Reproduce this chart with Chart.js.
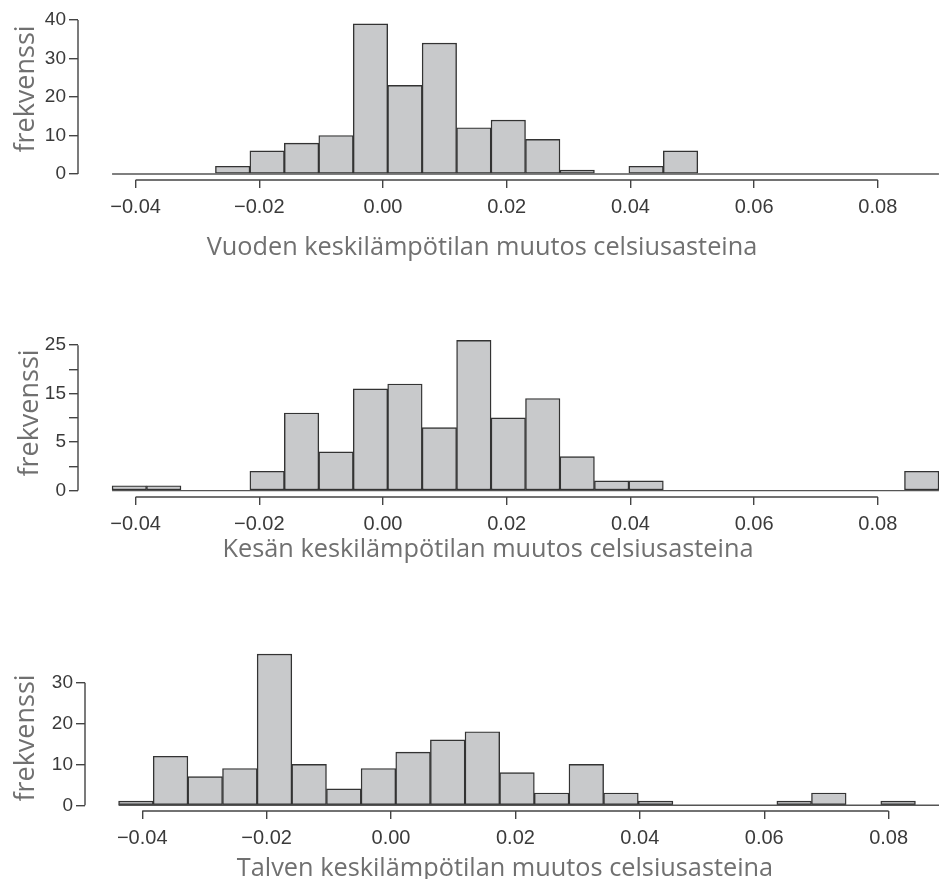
<!DOCTYPE html>
<html>
<head>
<meta charset="utf-8">
<script src="https://cdn.jsdelivr.net/npm/chart.js@4.4.1/dist/chart.umd.min.js"></script>
<style>
  html, body { margin: 0; padding: 0; background: #fff; }
  #page { position: relative; width: 939px; height: 879px; overflow: hidden; }
  .panel { position: absolute; left: 0; }
  .xtitle {
    position: absolute; width: 800px; text-align: center; white-space: nowrap;
    font-family: "Open Sans", sans-serif; font-size: 25.3px; line-height: 25px; color: #707070;
  }
  .ytitle {
    position: absolute; white-space: nowrap;
    font-family: "Open Sans", sans-serif; font-size: 27px; line-height: 27px; color: #707070;
    transform: translate(-50%, -50%) rotate(-90deg);
  }
</style>
</head>
<body>
<div id="page">
  <canvas id="vuosi" class="panel" width="939" height="270" style="top:0px"></canvas>
  <canvas id="kesa" class="panel" width="939" height="257" style="top:300px"></canvas>
  <canvas id="talvi" class="panel" width="939" height="251" style="top:620px"></canvas>

  <div class="ytitle" style="left:23px; top:89px">frekvenssi</div>
  <div class="ytitle" style="left:27px; top:413px">frekvenssi</div>
  <div class="ytitle" style="left:23px; top:738px">frekvenssi</div>

  <div class="xtitle" style="left:82px; top:233px">Vuoden keskilämpötilan muutos celsiusasteina</div>
  <div class="xtitle" style="left:88px; top:535px">Kesän keskilämpötilan muutos celsiusasteina</div>
  <div class="xtitle" style="left:105px; top:854px">Talven keskilämpötilan muutos celsiusasteina</div>
</div>

<script>
// histogram bins (same breaks in all three panels)
const binStart = -0.0438;
const binWidth = 0.00557;

// counts per bin
const vuosiCounts = [0, 0, 0, 2, 6, 8, 10, 39, 23, 34, 12, 14, 9, 1, 0, 2, 6, 0, 0, 0, 0, 0, 0, 0];
const kesaCounts  = [1, 1, 0, 0, 4, 16, 8, 21, 22, 13, 31, 15, 19, 7, 2, 2, 0, 0, 0, 0, 0, 0, 0, 4];
const talviCounts = [1, 12, 7, 9, 37, 10, 4, 9, 13, 16, 18, 8, 3, 10, 3, 1, 0, 0, 0, 1, 3, 0, 1, 0];

// axis ticks
const xTicks = [-0.04, -0.02, 0, 0.02, 0.04, 0.06, 0.08];
const vuosiYTicks = [0, 10, 20, 30, 40];
const vuosiYLabels = ['0', '10', '20', '30', '40'];
const kesaYTicks = [0, 5, 10, 15, 20, 25, 30];
const kesaYLabels = ['0', '', '5', '', '15', '', '25'];
const talviYTicks = [0, 10, 20, 30];
const talviYLabels = ['0', '10', '20', '30'];

Chart.defaults.font.family = '"Liberation Sans", Arial, sans-serif';
Chart.defaults.animation = false;

const axisColor = '#444';

// R-style axes: line only from first to last tick
const axisLines = {
  id: 'axisLines',
  afterDraw(chart) {
    const { ctx, chartArea, scales: { x, y } } = chart;
    ctx.save();
    ctx.strokeStyle = axisColor;
    ctx.lineWidth = 1.4;
    ctx.beginPath();
    ctx.moveTo(chartArea.left, y.getPixelForValue(y.ticks[0].value));
    ctx.lineTo(chartArea.left, y.getPixelForValue(y.ticks[y.ticks.length - 1].value));
    ctx.moveTo(x.getPixelForValue(x.ticks[0].value), chartArea.bottom);
    ctx.lineTo(x.getPixelForValue(x.ticks[x.ticks.length - 1].value), chartArea.bottom);
    ctx.stroke();
    ctx.restore();
  }
};

function fmtX(v) {
  if (Math.abs(v) < 1e-9) return '0.00';
  return (v < 0 ? '\u2212' : '') + Math.abs(v).toFixed(2);
}

function histogram(id, counts, yTicks, yLabels, p) {
  const bars = counts.map((c, i) => ({ x: binStart + (i + 0.5) * binWidth, y: c }));
  const baseline = [
    { x: binStart, y: 0 },
    { x: binStart + counts.length * binWidth, y: 0 }
  ];
  new Chart(document.getElementById(id), {
    data: {
      datasets: [
        {
          type: 'bar',
          data: bars,
          backgroundColor: '#c8c9cb',
          borderColor: '#333',
          borderWidth: 1.4,
          borderSkipped: false,
          barPercentage: 1,
          categoryPercentage: 1,
          order: 2
        },
        {
          type: 'line',
          data: baseline,
          borderColor: '#555',
          borderWidth: 1.4,
          pointRadius: 0,
          order: 1
        }
      ]
    },
    options: {
      responsive: false,
      events: [],
      layout: { padding: { top: p.padTop, left: 0, right: 0, bottom: 0 } },
      plugins: { legend: { display: false }, tooltip: { enabled: false } },
      scales: {
        x: {
          type: 'linear',
          min: p.xMin,
          max: p.xMax,
          offset: false,
          afterBuildTicks: s => { s.ticks = xTicks.map(v => ({ value: v })); },
          afterFit: s => { s.height = p.xHeight; },
          border: { display: false },
          grid: { drawOnChartArea: false, drawTicks: true, tickLength: 8, color: axisColor, lineWidth: 1.4, offset: false },
          ticks: {
            autoSkip: false, maxRotation: 0, padding: 7,
            color: '#3a3a3a', font: { size: 20 },
            callback: v => fmtX(v)
          }
        },
        y: {
          type: 'linear',
          min: p.yMin,
          max: p.yMax,
          afterBuildTicks: s => { s.ticks = yTicks.map(v => ({ value: v })); },
          afterFit: s => { s.width = p.yWidth; },
          border: { display: false },
          grid: { drawOnChartArea: false, drawTicks: true, tickLength: 9, color: axisColor, lineWidth: 1.4 },
          ticks: {
            autoSkip: false, padding: 3,
            color: '#3a3a3a', font: { size: 19 },
            callback: (v, i) => yLabels[i]
          }
        }
      }
    },
    plugins: [axisLines]
  });
}

histogram('vuosi', vuosiCounts, vuosiYTicks, vuosiYLabels,
  { padTop: 20, xHeight: 90, yWidth: 78, xMin: -0.04931, xMax: 0.08989, yMin: -1.56, yMax: 40 });
histogram('kesa', kesaCounts, kesaYTicks, kesaYLabels,
  { padTop: 35, xHeight: 60, yWidth: 78, xMin: -0.04931, xMax: 0.08989, yMin: -1.32, yMax: 32.1 });
histogram('talvi', talviCounts, talviYTicks, talviYLabels,
  { padTop: 30, xHeight: 60, yWidth: 85, xMin: -0.0492, xMax: 0.0881, yMin: -1.4, yMax: 38 });
</script>
</body>
</html>
